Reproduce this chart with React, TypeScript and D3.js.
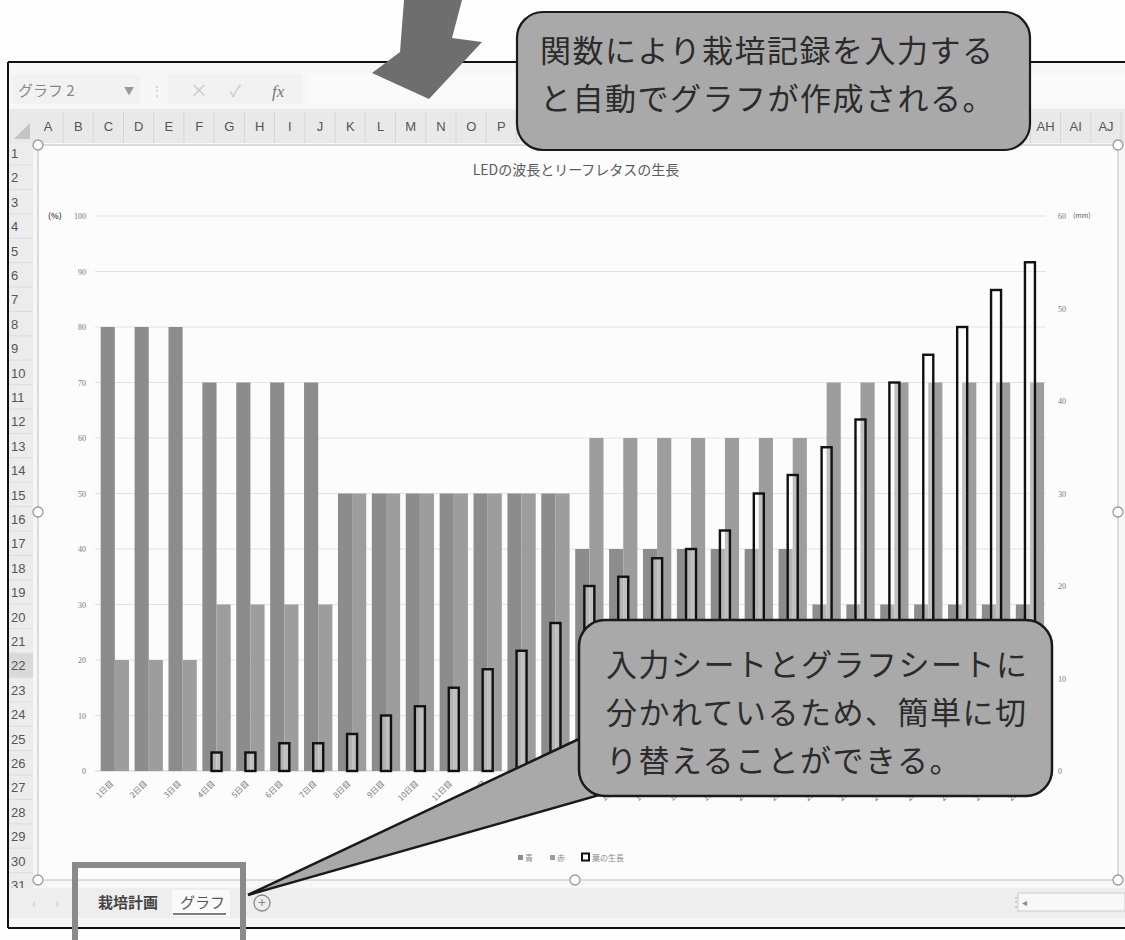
import React from 'react';
import * as d3 from 'd3';

const days = ['1日目','2日目','3日目','4日目','5日目','6日目','7日目','8日目','9日目','10日目','11日目','12日目','13日目','14日目','15日目','16日目','17日目','18日目','19日目','20日目','21日目','22日目','23日目','24日目','25日目','26日目','27日目','28日目'];
const blueValues = [80,80,80,70,70,70,70,50,50,50,50,50,50,50,40,40,40,40,40,40,40,30,30,30,30,30,30,30];
const redValues = [20,20,20,30,30,30,30,50,50,50,50,50,50,50,60,60,60,60,60,60,60,70,70,70,70,70,70,70];
const leafValues = [0,0,0,2,2,3,3,4,6,7,9,11,13,16,20,21,23,24,26,30,32,35,38,42,45,48,52,55];
const leftTicks = [0,10,20,30,40,50,60,70,80,90,100];
const rightTicks = [0,10,20,30,40,50,60];
const legendItems = ['青','赤','葉の生長'];
const columnLetters = ['A','B','C','D','E','F','G','H','I','J','K','L','M','N','O','P','Q','R','S','T','U','V','W','X','Y','Z','AA','AB','AC','AD','AE','AF','AG','AH','AI','AJ'];
const rowNumbers = Array.from({length: 31}, (_, i) => String(i + 1));
const chartTitle = 'LEDの波長とリーフレタスの生長';
const topCallout = ['関数により栽培記録を入力する','と自動でグラフが作成される。'];
const bottomCallout = ['入力シートとグラフシートに','分かれているため、簡単に切','り替えることができる。'];

const FONT = '"Noto Sans CJK JP", "Noto Sans", sans-serif';

export default function App() {
  const x = d3.scaleBand<string>().domain(days).range([97.9, 1046.9]).paddingInner(0.165).paddingOuter(0.0825);
  const x1 = d3.scaleBand<string>().domain(['blue','red']).range([0, x.bandwidth()]);
  const yL = d3.scaleLinear().domain([0, 100]).range([771, 216]);
  const yR = d3.scaleLinear().domain([0, 60]).range([771, 216]);
  const leafW = 10;

  const colX = d3.scaleLinear().domain([0, 35]).range([48, 1106]);
  const rowY = d3.scaleLinear().domain([0, 30]).range([153, 885]);

  const handles: [number, number][] = [[38,145],[38,512],[38,880],[575,880],[1118,880],[1118,512],[1118,145]];

  const bx = 579, by = 620, bw = 473, bh = 176, br = 26;
  const tail = `M${bx + 2},${by + 118} L248,895 L${bx + 24},${by + bh - 2} Z`;

  return (
    <svg width={1125} height={940} style={{position: 'absolute', left: 0, top: 0, background: '#fff'}} fontFamily={FONT}>
      <rect x={0} y={0} width={1125} height={940} fill="#fdfdfd" />
      <rect x={8} y={62} width={1117} height={866} fill="#f7f7f7" />
      <rect x={12} y={74} width={128} height={30} fill="#f2f2f2" />
      <text x={18} y={96} fontSize={15} fill="#888">グラフ 2</text>
      <text x={124} y={95} fontSize={10} fill="#999">▼</text>
      <text x={150} y={96} fontSize={14} fill="#ccc">⋮</text>
      <rect x={168} y={74} width={135} height={30} fill="#f2f2f2" />
      <text x={190} y={97} fontSize={18} fill="#c8c8c8">×</text>
      <text x={230} y={97} fontSize={16} fill="#c8c8c8">✓</text>
      <text x={272} y={97} fontSize={17} fill="#777" fontStyle="italic" fontFamily="'Liberation Serif', serif">fx</text>
      <rect x={308} y={74} width={817} height={30} fill="#fafafa" />
      <rect x={8} y={109} width={1117} height={34} fill="#e9e9e9" />
      <path d="M14,139 L30,123 L30,139 Z" fill="#c4c4c4" />
      {columnLetters.map((c, i) => (
        <g key={c}>
          <line x1={colX(i) + 15} x2={colX(i) + 15} y1={112} y2={143} stroke="#d6d6d6" />
          <text x={colX(i)} y={131} fontSize={13} textAnchor="middle" fill="#555" fontFamily="'Liberation Sans', Arial, sans-serif">{c}</text>
        </g>
      ))}
      <rect x={8} y={143} width={25} height={745} fill="#ececec" />
      <rect x={8} y={rowY(21) - 12} width={25} height={24} fill="#d9d9d9" />
      {rowNumbers.map((r, i) => (
        <g key={r}>
          <line x1={8} x2={33} y1={rowY(i) + 12} y2={rowY(i) + 12} stroke="#dcdcdc" />
          <text x={11} y={rowY(i) + 5} fontSize={13} fill="#555" fontFamily="'Liberation Sans', Arial, sans-serif">{r}</text>
        </g>
      ))}
      <rect x={38} y={145} width={1080} height={735} fill="#fcfcfc" stroke="#c8c8c8" strokeWidth={1.2} />
      <text x={576} y={175} fontSize={14} textAnchor="middle" fill="#5a5a5a">{chartTitle}</text>
      {leftTicks.map(t => (
        <line key={'g' + t} x1={95} x2={1046} y1={yL(t)} y2={yL(t)} stroke={t === 0 ? '#d0d0d0' : '#e2e2e2'} strokeWidth={1} />
      ))}
      {leftTicks.map(t => (
        <text key={'l' + t} x={86} y={yL(t) + 3} fontSize={8} textAnchor="end" fill="#777" fontFamily="'Liberation Serif', serif">{t}</text>
      ))}
      <text x={48} y={yL(100) + 3} fontSize={8} fill="#555" fontWeight="bold">(%)</text>
      {rightTicks.map(t => (
        <text key={'r' + t} x={1058} y={yR(t) + 3} fontSize={8} fill="#777" fontFamily="'Liberation Serif', serif">{t}</text>
      ))}
      <text x={1073} y={yR(60) + 2} fontSize={7} fill="#555">(mm)</text>
      {days.map((d, i) => (
        <g key={'b' + d}>
          <rect x={(x(d) as number) + (x1('blue') as number)} y={yL(blueValues[i])} width={x1.bandwidth()} height={yL(0) - yL(blueValues[i])} fill="#8c8c8c" />
          <rect x={(x(d) as number) + (x1('red') as number)} y={yL(redValues[i])} width={x1.bandwidth()} height={yL(0) - yL(redValues[i])} fill="#9d9d9d" />
        </g>
      ))}
      {days.map((d, i) => leafValues[i] > 0 ? (
        <rect key={'f' + d} x={(x(d) as number) + x.bandwidth() / 2 - leafW / 2} y={yR(leafValues[i])} width={leafW} height={yR(0) - yR(leafValues[i])} fill="#ffffff" fillOpacity={0.35} stroke="#111" strokeWidth={2.4} />
      ) : null)}
      {days.map(d => (
        <text key={'x' + d} transform={`translate(${(x(d) as number) + x.bandwidth() / 2 - 1},${784}) rotate(-45)`} fontSize={8} textAnchor="end" fill="#777">{d}</text>
      ))}
      <rect x={518} y={855} width={5} height={5} fill="#8c8c8c" />
      <text x={525} y={861} fontSize={8} fill="#888">{legendItems[0]}</text>
      <rect x={550} y={855} width={5} height={5} fill="#9d9d9d" />
      <text x={557} y={861} fontSize={8} fill="#888">{legendItems[1]}</text>
      <rect x={582} y={853.5} width={7} height={7} fill="#fff" stroke="#111" strokeWidth={2} />
      <text x={592} y={861} fontSize={8} fill="#888">{legendItems[2]}</text>
      {handles.map(([hx, hy], i) => (
        <circle key={'h' + i} cx={hx} cy={hy} r={5} fill="#fff" stroke="#9a9a9a" strokeWidth={1.3} />
      ))}
      <rect x={8} y={888} width={1117} height={30} fill="#eeeeee" />
      <text x={32} y={908} fontSize={13} fill="#c8c8c8">‹</text>
      <text x={55} y={908} fontSize={13} fill="#c8c8c8">›</text>
      <text x={98} y={908} fontSize={15} fill="#444" fontWeight="bold">栽培計画</text>
      <rect x={172} y={890} width={58} height={26} fill="#fafafa" />
      <text x={180} y={908} fontSize={15} fill="#555">グラフ</text>
      <line x1={173} x2={226} y1={914} y2={914} stroke="#555" strokeWidth={1.5} />
      <text x={236} y={908} fontSize={12} fill="#666">⋮</text>
      <circle cx={262} cy={903} r={8} fill="none" stroke="#888" strokeWidth={1.3} />
      <text x={262} y={908} fontSize={14} textAnchor="middle" fill="#888">+</text>
      <text x={1010} y={906} fontSize={12} fill="#bbb">⋮</text>
      <rect x={1018} y={893} width={107} height={18} fill="#f8f8f8" stroke="#ccc" />
      <text x={1022} y={906} fontSize={10} fill="#888">◂</text>
      <line x1={8} x2={8} y1={62} y2={928} stroke="#111" strokeWidth={2} />
      <line x1={8} x2={1125} y1={928} y2={928} stroke="#111" strokeWidth={2} />
      <line x1={8} x2={1125} y1={62} y2={62} stroke="#111" strokeWidth={2} />
      <rect x={8} y={929} width={1117} height={11} fill="#fdfdfd" />
      <rect x={75} y={865} width={168} height={80} fill="none" stroke="#8a8a8a" strokeWidth={6} />
      <path d="M404,0 L462,0 L452,38 L482,42 L429,99 L372,73 L400,52 Z" fill="#6e6e6e" />
      <rect x={517} y={12} width={513} height={138} rx={26} ry={26} fill="#a9a9a9" stroke="#1a1a1a" strokeWidth={2.2} />
      {topCallout.map((t, i) => (
        <text key={'tc' + i} x={540} y={62 + i * 48} fontSize={31} fill="#2b2b2b" letterSpacing={1.5}>{t}</text>
      ))}
      <path d={tail} fill="#a9a9a9" stroke="#1a1a1a" strokeWidth={2.5} strokeLinejoin="miter" />
      <rect x={bx} y={by} width={bw} height={bh} rx={br} ry={br} fill="#a9a9a9" stroke="#1a1a1a" strokeWidth={2.5} />
      <path d={`M${bx + 3.5},${by + 121} L${bx + 22},${by + bh - 3.5} L${bx + 40},${by + bh - 3.5} L${bx + 3.5},${by + 100} Z`} fill="#a9a9a9" />
      {bottomCallout.map((t, i) => (
        <text key={'bc' + i} x={606} y={676 + i * 48} fontSize={31} fill="#2b2b2b" letterSpacing={1.5}>{t}</text>
      ))}
    </svg>
  );
}
